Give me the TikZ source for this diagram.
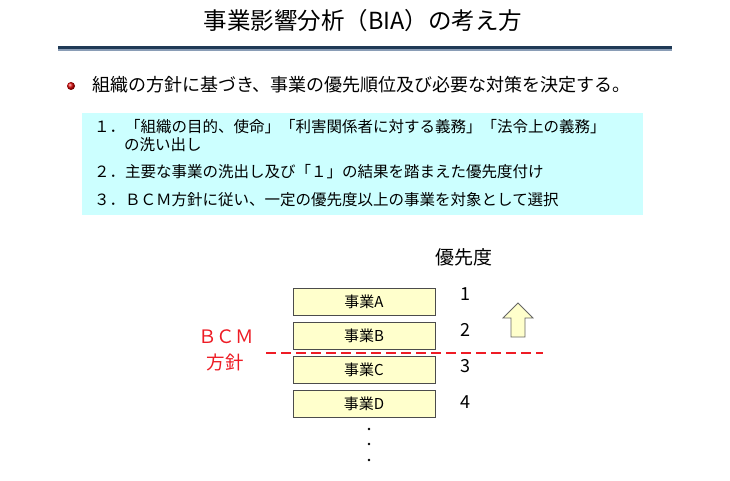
\documentclass[tikz,border=0pt]{standalone}
\usepackage{fontspec}
\setmainfont{Noto Sans CJK JP}
\usetikzlibrary{arrows.meta, positioning}
\definecolor{navy}{HTML}{1F3A56}
\definecolor{steel}{HTML}{8A9DB6}
\definecolor{paleblue}{HTML}{CCFFFF}
\definecolor{paleyellow}{HTML}{FFFFCC}
\definecolor{bcmred}{HTML}{EE1C25}
\tikzstyle{bizbox}=[fill=paleyellow,draw=black!70,minimum width=142pt,minimum height=27pt,
  inner sep=0pt,font=\fontsize{15}{15}\selectfont]
\tikzstyle{rank}=[inner sep=0pt,font=\fontsize{18}{18}\selectfont]
\tikzstyle{item}=[anchor=west,inner sep=0pt,font=\fontsize{15.5}{15.5}\selectfont]

\begin{document}
\begin{tikzpicture}[x=1pt,y=-1pt]
  \useasboundingbox[fill=white] (0,0) rectangle (730,481);
  % title and rule
  \node[inner sep=0pt,font=\fontsize{23.5}{23.5}\selectfont] (title) at (363,21) {事業影響分析（BIA）の考え方};
  \fill[navy] (58,46.5) rectangle (672,49);
  \fill[steel] (58,49) rectangle (672,51.5);
  % lead sentence
  \shade[ball color=red!85!black] (71,86) circle (4);
  \node[anchor=west,inner sep=0pt,font=\fontsize{18}{18}\selectfont] (lead) at (92,85)
    {組織の方針に基づき、事業の優先順位及び必要な対策を決定する。};
  \fill[paleblue] (82,113) rectangle (643,215);
  \node[item] (s1) at (94,127) {１．「組織の目的、使命」「利害関係者に対する義務」「法令上の義務」};
  \node[item] (s1b) at (124,145) {の洗い出し};
  \node[item] (s2) at (94,172) {２．主要な事業の洗出し及び「１」の結果を踏まえた優先度付け};
  \node[item] (s3) at (94,200) {３．ＢＣＭ方針に従い、一定の優先度以上の事業を対象として選択};
  % business stack
  \node[bizbox] (bizA) at (364,302) {事業A};
  \node[bizbox,below=6.5pt of bizA] (bizB) {事業B};
  \node[bizbox,below=6.5pt of bizB] (bizC) {事業C};
  \node[bizbox,below=6.5pt of bizC] (bizD) {事業D};
  \node[rank,font=\fontsize{19}{19}\selectfont] (prio) at (464,257) {優先度};
  \node[rank] (r1) at (465,294) {1};
  \node[rank] (r2) at (465,330) {2};
  \node[rank] (r3) at (465,366) {3};
  \node[rank] (r4) at (465,402) {4};
  \foreach \y in {429,444,460} \fill (369,\y) circle (1.3);
  % priority arrow
  \draw[fill=paleyellow,draw=black!60,line width=0.8pt] (511,337) -- (511,318) -- (503,318) -- (518,303)
    -- (533,318) -- (525,318) -- (525,337) -- cycle;
  % BCM policy cut-off
  \coordinate (cutL) at (266,353);
  \coordinate (cutR) at (543,353);
  \draw[bcmred,line width=1.5pt,dash pattern=on 10pt off 5pt] (cutL) -- (cutR);
  \node[inner sep=0pt,text=bcmred,font=\fontsize{18.5}{18.5}\selectfont] (bcm) at (226,337) {ＢＣＭ};
  \node[inner sep=0pt,text=bcmred,font=\fontsize{18.5}{18.5}\selectfont] (hoshin) at (225,362) {方針};
\end{tikzpicture}
\end{document}
